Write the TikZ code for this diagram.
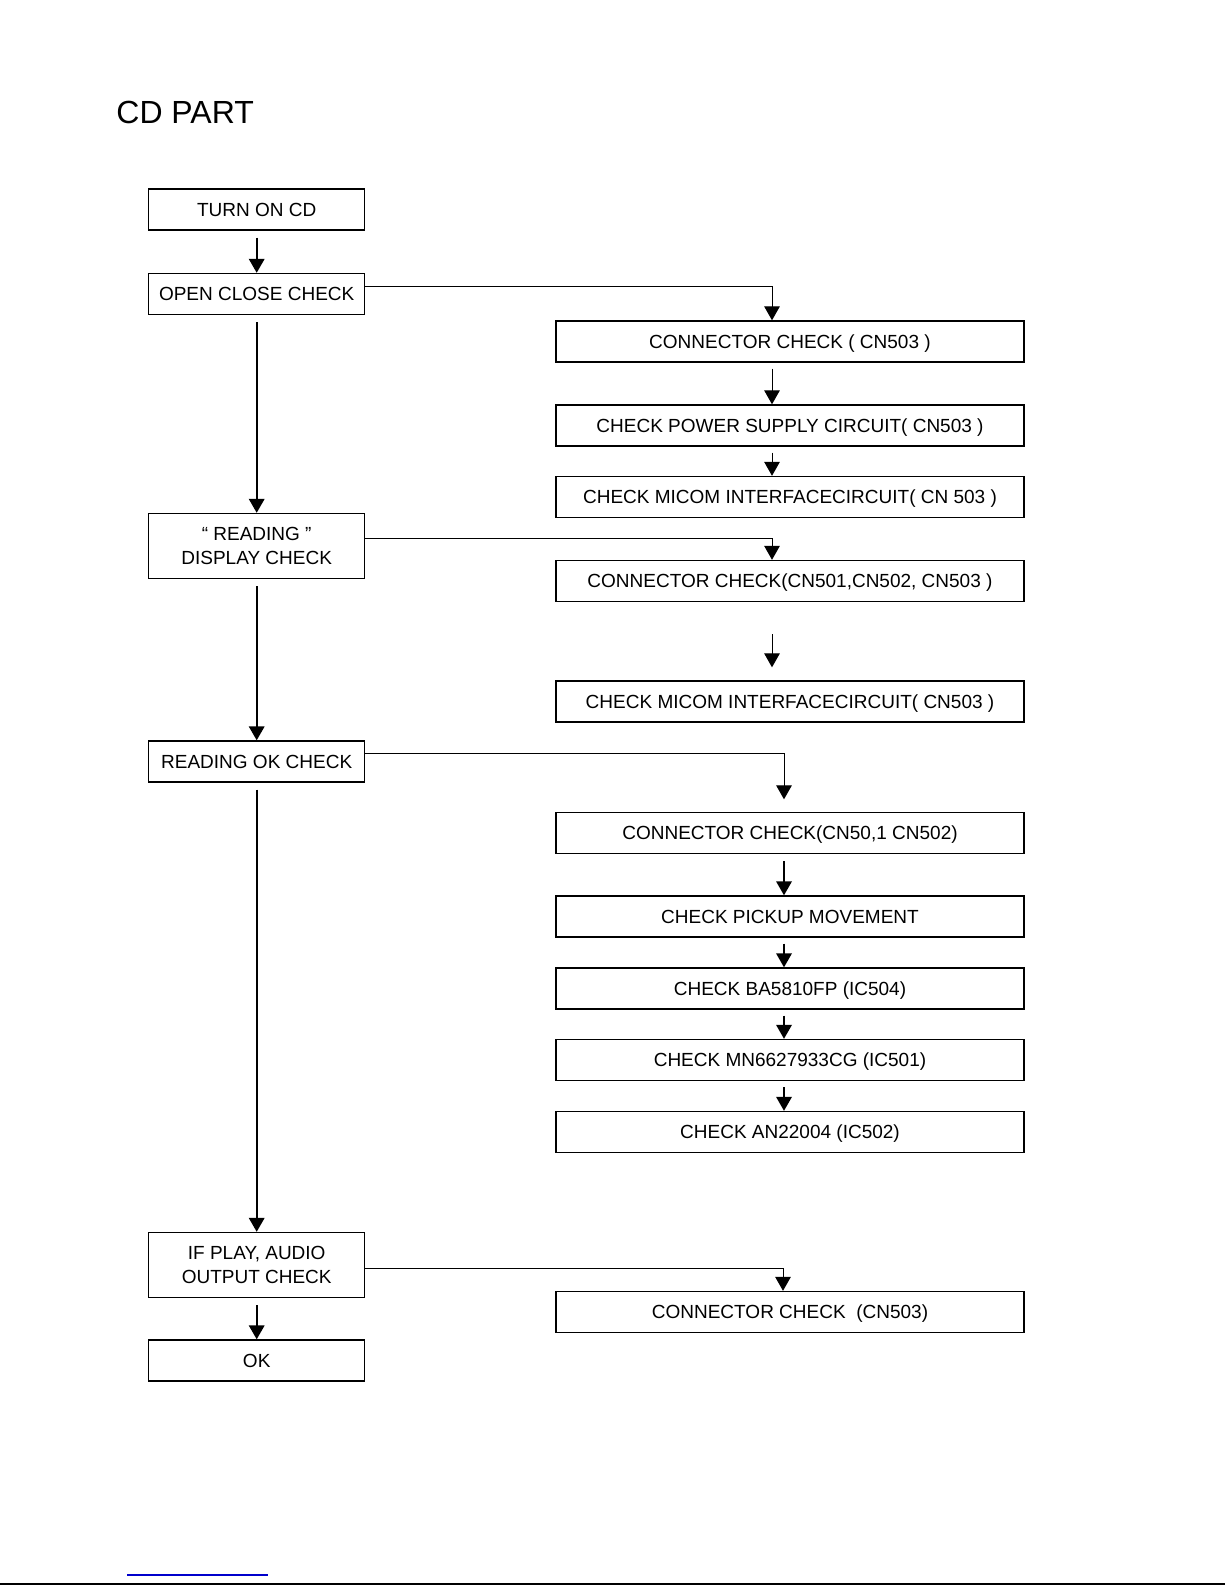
\documentclass[tikz,border=0pt]{standalone}
\usepackage{fontspec}
\setmainfont{Liberation Sans}
\usepackage{xcolor}
\usepackage{tikz}
\usetikzlibrary{arrows.meta, positioning}
\definecolor{LinkBlue}{HTML}{0000CC}

\begin{document}
\begin{tikzpicture}[
  x=0.5pt, y=-0.5pt,
  box/.style={rectangle, draw, line width=0.7pt, inner sep=0pt,
    font=\fontsize{9.5}{11.7}\selectfont, align=center, minimum height=20.5pt},
  oneline/.style={text height=6.8pt, text depth=0pt},
  leftbox/.style={box, minimum width=108pt},
  rightbox/.style={box, oneline, minimum width=234pt},
  mainarr/.style={-{Triangle[length=7pt,width=7.8pt]}, line width=0.9pt, shorten <=3.5pt},
  arr/.style={-{Triangle[length=7pt,width=7.8pt]}, line width=0.5pt}
]
\useasboundingbox (0,0) rectangle (1225,1585);

\node[anchor=base west, inner sep=0pt, font=\fontsize{16}{19}\selectfont] (title) at (116,123) {CD PART};

% main column
\node[leftbox, oneline] (turn)   at (256.7,209.5)  {TURN ON CD};
\node[leftbox, oneline] (open)   at (256.7,294)    {OPEN CLOSE CHECK};
\node[leftbox, minimum height=32.5pt] (readd) at (256.7,546) {“ READING ”\\DISPLAY CHECK};
\node[leftbox, oneline] (readok) at (256.7,761.5)  {READING OK CHECK};
\node[leftbox, minimum height=32.5pt] (play)  at (256.7,1265) {IF PLAY, AUDIO\\OUTPUT CHECK};
\node[leftbox, oneline] (ok)     at (256.7,1360.5) {OK};

% right column
\node[rightbox] (cn1)    at (790,341.5)  {CONNECTOR CHECK ( CN503 )};
\node[rightbox] (power)  at (790,425.5)  {CHECK POWER SUPPLY CIRCUIT( CN503 )};
\node[rightbox] (micom1) at (790,497)    {CHECK MICOM INTERFACECIRCUIT( CN 503 )};
\node[rightbox] (cn2)    at (790,581)    {CONNECTOR CHECK(CN501,CN502, CN503 )};
\node[rightbox] (micom2) at (790,701.5)  {CHECK MICOM INTERFACECIRCUIT( CN503 )};
\node[rightbox] (cn3)    at (790,833)    {CONNECTOR CHECK(CN50,1 CN502)};
\node[rightbox] (pickup) at (790,916.5)  {CHECK PICKUP MOVEMENT};
\node[rightbox] (ba)     at (790,988.5)  {CHECK BA5810FP (IC504)};
\node[rightbox] (mn)     at (790,1060)   {CHECK MN6627933CG (IC501)};
\node[rightbox] (an)     at (790,1132)   {CHECK AN22004 (IC502)};
\node[rightbox] (cn4)    at (790,1312)   {CONNECTOR CHECK~~(CN503)};

% main flow
\draw[mainarr] (turn) -- (open);
\draw[mainarr] (open) -- (readd);
\draw[mainarr] (readd) -- (readok);
\draw[mainarr] (readok) -- (play);
\draw[mainarr] (play) -- (ok);

% branches
\draw[arr] ([yshift=4pt]open.east) -| ([xshift=-9pt]cn1.north);
\draw[arr] ([yshift=4pt]readd.east) -| ([xshift=-9pt]cn2.north);
\draw[arr, shorten >=6.25pt] ([yshift=4.25pt]readok.east) -| ([xshift=-3pt]cn3.north);
\draw[arr] ([yshift=-1.5pt]play.east) -| ([xshift=-3.5pt]cn4.north);

% sub checks
\draw[arr, shorten <=3pt] ([xshift=-9pt]cn1.south) -- ([xshift=-9pt]power.north);
\draw[arr, shorten <=3pt] ([xshift=-9pt]power.south) -- ([xshift=-9pt]micom1.north);
\draw[arr, shorten <=16pt, shorten >=6.5pt] ([xshift=-9pt]cn2.south) -- ([xshift=-9pt]micom2.north);
\draw[arr, line width=0.8pt, shorten <=3.5pt] ([xshift=-3pt]cn3.south) -- ([xshift=-3pt]pickup.north);
\draw[arr, line width=0.8pt, shorten <=3pt] ([xshift=-3pt]pickup.south) -- ([xshift=-3pt]ba.north);
\draw[arr, line width=0.8pt, shorten <=3pt] ([xshift=-3pt]ba.south) -- ([xshift=-3pt]mn.north);
\draw[arr, line width=0.8pt, shorten <=3pt] ([xshift=-3pt]mn.south) -- ([xshift=-3pt]an.north);

% page rules
\draw[LinkBlue, line width=0.6pt] (127,1575) -- (268,1575);
\draw[line width=1pt] (0,1583.5) -- (1225,1583.5);

\end{tikzpicture}
\end{document}
